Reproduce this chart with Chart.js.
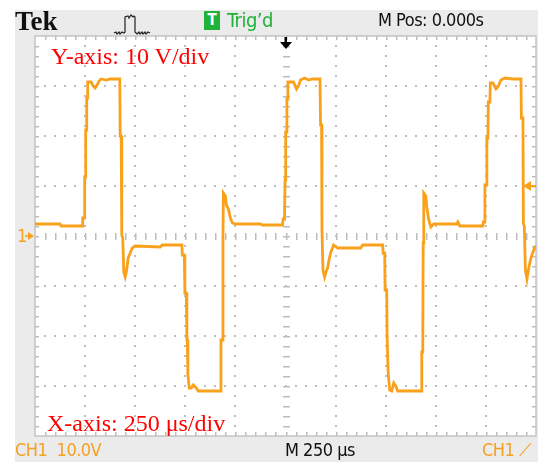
<!DOCTYPE html>
<html>
<head>
<meta charset="utf-8">
<script src="https://cdn.jsdelivr.net/npm/chart.js@4"></script>
<style>
  html, body { margin: 0; padding: 0; background: #fff; }
  #wrap { position: relative; width: 550px; height: 473px; overflow: hidden; }
  #panel { position: absolute; left: 15px; top: 10px; width: 523px; height: 452px; background: #ebebeb; }
  #screen { position: absolute; left: 35px; top: 36px; width: 501px; height: 400px; background: #fff; }
  canvas { position: absolute; left: 0; top: 0; }
  .t { position: absolute; white-space: nowrap; }
  .narrow { font-family: "Liberation Sans Narrow", "Arial Narrow", "DejaVu Sans Condensed", sans-serif; letter-spacing: -0.5px; }
  .red { color: #f00; font-family: "Liberation Serif", "Times New Roman", serif; font-size: 24px; line-height: 24px; }
</style>
</head>
<body>
<div id="wrap">
  <div id="panel"></div>
  <div id="screen"></div>
  <canvas id="scope" width="550" height="473"></canvas>

  <div class="t" style="left:15px;top:8px;font:bold 27px/27px 'Liberation Serif',serif;color:#111;">Tek</div>
  <svg class="t" style="left:112px;top:12px" width="42" height="24" viewBox="0 0 42 24">
    <polyline fill="none" stroke="#222" stroke-width="1.2"
      points="2,21 4,20 5,22 7,20 8,22 10,20 12,21 13,20 13,5 16,4 17,6 19,3 21,5 22,4 23,5 23,20 25,22 27,20 28,22 30,20 31,22 33,20 34,22 36,20 38,21"/>
  </svg>
  <div class="t narrow" style="left:204px;top:11px;width:16px;height:19px;background:#21b23a;color:#fff;font-size:15px;line-height:19px;text-align:center;font-weight:bold;letter-spacing:0;">T</div>
  <div class="t narrow" style="left:227px;top:10px;font-size:20px;line-height:20px;color:#21b23a;">Trig’d</div>
  <div class="t narrow" style="left:378px;top:10px;font-size:18px;line-height:19px;color:#111;">M Pos: 0.000s</div>

  <div class="t red" style="left:51px;top:44px;">Y-axis: 10 V/div</div>
  <div class="t red" style="left:47px;top:411px;">X-axis: 250 μs/div</div>

  <div class="t narrow" style="left:15px;top:440px;font-size:18px;line-height:19px;color:#f5a020;">CH1&nbsp;&nbsp;10.0V</div>
  <div class="t narrow" style="left:285px;top:440px;font-size:18px;line-height:19px;color:#111;">M 250 μs</div>
  <div class="t narrow" style="left:482px;top:440px;font-size:18px;line-height:19px;color:#f5a020;">CH1 ⟋</div>
</div>

<script>
// screen divisions (250 us/div horizontally, 10 V/div vertically)
const xDivisionsUs = [-1250, -1000, -750, -500, -250, 0, 250, 500, 750, 1000, 1250];
const yDivisionsV = [-40, -30, -20, -10, 0, 10, 20, 30, 40];
const triggerPosUs = 0;
const triggerLevelV = 10;
const groundV = 0;

// CH1 trace
const timeUs = [
  -1250, -1125, -1120, -1015, -1012, -1005, -1002, -1000, -997, -995, -992, -990, -987, -970, -960, -950, -940, -930, -920, -895, -875, -827,
  -825, -820, -817, -812, -807, -800, -795, -790, -785, -775, -765, -750, -625, -615, -517,
  -515, -505, -502, -495, -492, -490, -487, -480, -470, -460, -445, -435, -325,
  -322, -315, -312, -310, -300, -295, -285, -275, -265, -250, -125, -115, -15,
  -12, -5, -2, 0, 2, 5, 7, 10, 12, 40, 55, 65, 75, 95, 115, 135, 172,
  175, 180, 182, 187, 195, 202, 210, 215, 225, 240, 260, 375, 385, 485,
  487, 495, 497, 505, 507, 510, 512, 520, 530, 540, 550, 560, 677,
  680, 685, 687, 690, 700, 705, 715, 725, 740, 855, 860, 870, 880, 985,
  987, 993, 995, 1003, 1005, 1010, 1012, 1020, 1022, 1035, 1050, 1060, 1075, 1095, 1135, 1175,
  1177, 1185, 1187, 1192, 1197, 1205, 1212, 1220, 1225, 1235, 1245, 1250
];
const voltsV = [
  2.4, 2.4, 2.0, 2.0, 3.6, 3.6, 11.8, 11.8, 21.2, 21.2, 27.6, 27.6, 30.8, 30.8, 30.0, 29.6, 30.2, 31.0, 31.4, 31.2, 31.4, 31.4,
  20.0, 20.0, 0.2, -0.4, -7.2, -8.2, -7.4, -6.0, -4.4, -3.4, -2.4, -2.0, -2.2, -1.8, -1.8,
  -3.8, -3.8, -11.4, -11.4, -20.8, -20.8, -27.8, -30.4, -30.4, -29.8, -30.4, -31.0, -31.0,
  -20.8, -20.8, -0.4, 8.6, 8.0, 6.2, 5.4, 3.6, 2.6, 2.4, 2.4, 2.2, 2.2,
  3.4, 3.4, 11.2, 11.2, 20.8, 20.8, 27.4, 27.4, 30.8, 30.8, 29.4, 30.0, 31.2, 31.6, 31.2, 31.4, 31.4,
  22.2, 22.2, 1.2, -6.8, -8.2, -7.2, -6.4, -5.2, -3.4, -1.8, -2.4, -2.4, -1.8, -1.8,
  -3.4, -3.4, -10.8, -10.8, -19.8, -19.8, -27.2, -30.8, -31.0, -29.4, -30.0, -31.0, -31.0,
  -23.2, -23.2, -1.4, 8.6, 8.0, 5.8, 3.2, 1.8, 2.4, 2.4, 2.8, 2.0, 2.0, 2.0,
  2.8, 2.8, 10.2, 10.2, 19.6, 19.6, 26.8, 26.8, 30.6, 30.6, 29.4, 29.8, 31.2, 31.6, 31.4, 31.4,
  23.6, 23.6, 2.6, 1.8, -6.8, -8.6, -6.8, -5.2, -4.4, -3.2, -2.2, -2.2
];

const traceColor = "#f9a11b";
const dotColor = "#bdbdbd";

// graticule: dotted division lines, dashed centre cross, ticks on the frame
const graticule = {
  id: "graticule",
  beforeDatasetsDraw(chart) {
    const { ctx, chartArea: a, scales: { x, y } } = chart;
    const xMin = xDivisionsUs[0], xMax = xDivisionsUs[xDivisionsUs.length - 1];
    const yMin = yDivisionsV[0], yMax = yDivisionsV[yDivisionsV.length - 1];
    const xSub = (xDivisionsUs[1] - xDivisionsUs[0]) / 5;
    const ySub = (yDivisionsV[1] - yDivisionsV[0]) / 5;
    ctx.save();
    ctx.fillStyle = dotColor;

    xDivisionsUs.slice(1, -1).forEach(t => {
      const px = Math.round(x.getPixelForValue(t));
      for (let v = yMin + ySub; v < yMax; v += ySub) {
        const py = Math.round(y.getPixelForValue(v));
        if (t === triggerPosUs) ctx.fillRect(px - 3, py, 7, 1.5);
        else ctx.fillRect(px - 1, py - 1, 2, 2);
      }
    });
    yDivisionsV.slice(1, -1).forEach(v => {
      const py = Math.round(y.getPixelForValue(v));
      for (let t = xMin + xSub; t < xMax; t += xSub) {
        const px = Math.round(x.getPixelForValue(t));
        if (v === groundV) ctx.fillRect(px, py - 3, 1.5, 7);
        else ctx.fillRect(px - 1, py - 1, 2, 2);
      }
    });

    // frame ticks
    for (let t = xMin + xSub; t < xMax; t += xSub) {
      const px = Math.round(x.getPixelForValue(t));
      ctx.fillRect(px, a.top, 1.5, 4);
      ctx.fillRect(px, a.bottom - 4, 1.5, 4);
    }
    for (let v = yMin + ySub; v < yMax; v += ySub) {
      const py = Math.round(y.getPixelForValue(v));
      ctx.fillRect(a.left, py, 4, 1.5);
      ctx.fillRect(a.right - 4, py, 4, 1.5);
    }

    ctx.strokeStyle = "#c4c4c4";
    ctx.lineWidth = 1.5;
    ctx.strokeRect(a.left, a.top, a.right - a.left, a.bottom - a.top);
    ctx.restore();
  },
  afterDatasetsDraw(chart) {
    const { ctx, chartArea: a, scales: { x, y } } = chart;
    ctx.save();
    // trigger position arrow (top)
    const tx = x.getPixelForValue(triggerPosUs);
    ctx.fillStyle = "#000";
    ctx.fillRect(tx - 1, a.top + 1, 2.5, 6);
    ctx.beginPath();
    ctx.moveTo(tx - 5.5, a.top + 6);
    ctx.lineTo(tx + 6.5, a.top + 6);
    ctx.lineTo(tx + 0.5, a.top + 13);
    ctx.closePath();
    ctx.fill();

    // ground marker (left)
    const gy = y.getPixelForValue(groundV);
    ctx.fillStyle = traceColor;
    ctx.font = "18px 'Liberation Sans Narrow', 'DejaVu Sans Condensed', sans-serif";
    ctx.textBaseline = "middle";
    ctx.fillText("1", a.left - 18, gy + 1);
    ctx.beginPath();
    ctx.moveTo(a.left - 7, gy - 4);
    ctx.lineTo(a.left - 1, gy);
    ctx.lineTo(a.left - 7, gy + 4);
    ctx.closePath();
    ctx.fill();
    ctx.fillRect(a.left - 10, gy - 0.75, 4, 1.5);

    // trigger level marker (right)
    const ly = y.getPixelForValue(triggerLevelV);
    ctx.beginPath();
    ctx.moveTo(a.right - 13, ly);
    ctx.lineTo(a.right - 5, ly - 5);
    ctx.lineTo(a.right - 5, ly + 5);
    ctx.closePath();
    ctx.fill();
    ctx.fillRect(a.right - 6, ly - 1, 6, 2);
    ctx.restore();
  }
};

new Chart(document.getElementById("scope"), {
  type: "line",
  data: {
    datasets: [{
      label: "CH1",
      data: timeUs.map((t, i) => ({ x: t, y: voltsV[i] })),
      borderColor: traceColor,
      borderWidth: 2.8,
      pointRadius: 0,
      tension: 0,
      fill: false
    }]
  },
  options: {
    responsive: false,
    animation: false,
    layout: { padding: { left: 35, top: 36, right: 14, bottom: 37 } },
    plugins: { legend: { display: false }, tooltip: { enabled: false } },
    scales: {
      x: { type: "linear", min: xDivisionsUs[0], max: xDivisionsUs[xDivisionsUs.length - 1], display: false },
      y: { type: "linear", min: yDivisionsV[0], max: yDivisionsV[yDivisionsV.length - 1], display: false }
    }
  },
  plugins: [graticule]
});
</script>
</body>
</html>
